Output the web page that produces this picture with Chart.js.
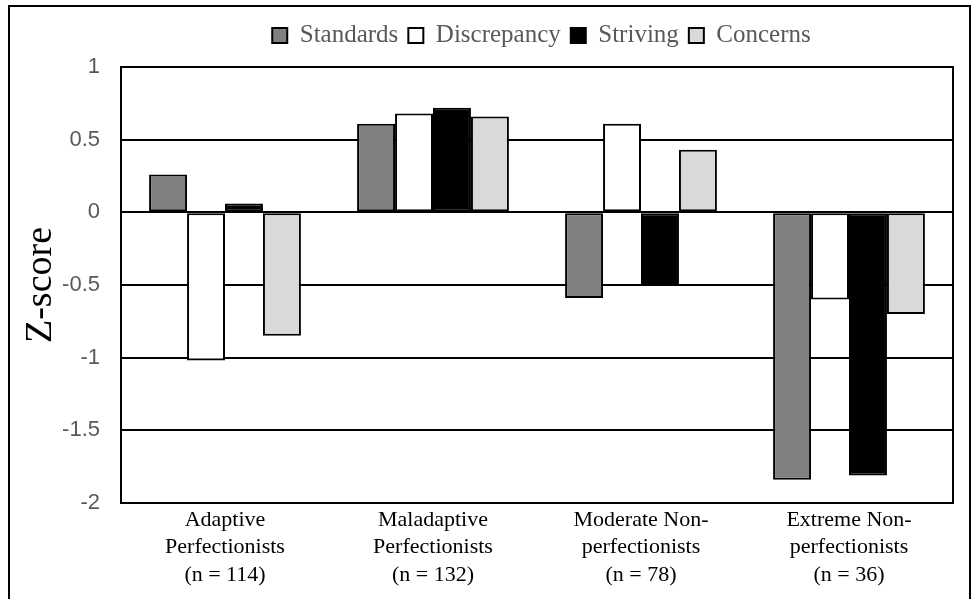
<!DOCTYPE html>
<html>
<head>
<meta charset="utf-8">
<script src="https://cdn.jsdelivr.net/npm/chart.js@4/dist/chart.umd.min.js"></script>
<style>
  html, body { margin: 0; padding: 0; background: #fff; }
  #wrap { width: 973px; height: 599px; }
</style>
</head>
<body>
<div id="wrap"><canvas id="zscores" width="973" height="599"></canvas></div>
<script>
// Groups and their z-scores per subscale
const groups = [
  ["Adaptive", "Perfectionists", "(n = 114)"],
  ["Maladaptive", "Perfectionists", "(n = 132)"],
  ["Moderate Non-", "perfectionists", "(n = 78)"],
  ["Extreme Non-", "perfectionists", "(n = 36)"]
];
const seriesNames = ["Standards", "Discrepancy", "Striving", "Concerns"];
const standards = [0.26, 0.61, -0.59, -1.84];
const discrepancy = [-1.02, 0.68, 0.61, -0.60];
const striving = [0.06, 0.72, -0.50, -1.81];
const concerns = [-0.85, 0.66, 0.43, -0.70];
const yTicks = [1, 0.5, 0, -0.5, -1, -1.5, -2];

const fills = ["#808080", "#ffffff", "#000000", "#d9d9d9"];
const values = [standards, discrepancy, striving, concerns];

// box around plot + outer frame
const framePlugin = {
  id: "frame",
  afterDraw(chart) {
    const { ctx, chartArea } = chart;
    ctx.save();
    ctx.strokeStyle = "#000";
    ctx.lineWidth = 2;
    ctx.strokeRect(chartArea.left, chartArea.top, chartArea.right - chartArea.left, chartArea.bottom - chartArea.top);
    ctx.strokeRect(9, 6, 961, 620);
    ctx.restore();
  }
};

// extra room under the legend, and legend sits a bit right of centre
const legendTweak = {
  id: "legendTweak",
  beforeInit(chart) {
    const origFit = chart.legend.fit;
    chart.legend.fit = function () {
      origFit.bind(chart.legend)();
      this.height += 9;
    };
  },
  afterLayout(chart) {
    chart.legend.left += 112;
  }
};

new Chart(document.getElementById("zscores"), {
  type: "bar",
  data: {
    labels: groups,
    datasets: seriesNames.map((name, i) => ({
      label: name,
      data: values[i],
      backgroundColor: fills[i],
      borderColor: "#000",
      borderWidth: 2,
      borderSkipped: false,
      barPercentage: 1,
      categoryPercentage: 0.73
    }))
  },
  options: {
    responsive: false,
    animation: false,
    layout: { padding: { left: 18, right: 20, top: 13, bottom: 0 } },
    plugins: {
      legend: {
        position: "top",
        labels: {
          font: { family: "Liberation Serif", size: 25 },
          color: "#595959",
          boxWidth: 15,
          boxHeight: 15,
          padding: 10
        }
      },
      tooltip: { enabled: false }
    },
    scales: {
      x: {
        grid: { display: false, drawTicks: false },
        border: { display: false },
        ticks: {
          color: "#000",
          font: { family: "Liberation Serif", size: 22, lineHeight: 1.25 },
          padding: 3,
          maxRotation: 0,
          autoSkip: false
        },
        afterFit(scale) { scale.height = 96; }
      },
      y: {
        min: -2,
        max: 1,
        afterBuildTicks(scale) { scale.ticks = yTicks.map(v => ({ value: v })); },
        ticks: {
          color: "#595959",
          font: { family: "Liberation Sans", size: 22 },
          padding: 21,
          callback: (v) => String(v)
        },
        grid: { color: "#000", lineWidth: 2, drawTicks: false },
        border: { display: false },
        title: {
          display: true,
          text: "Z-score",
          color: "#000",
          font: { family: "Liberation Serif", size: 38 },
          padding: 0
        },
        afterFit(scale) { scale.width = 103; }
      }
    }
  },
  plugins: [framePlugin, legendTweak]
});
</script>
</body>
</html>
